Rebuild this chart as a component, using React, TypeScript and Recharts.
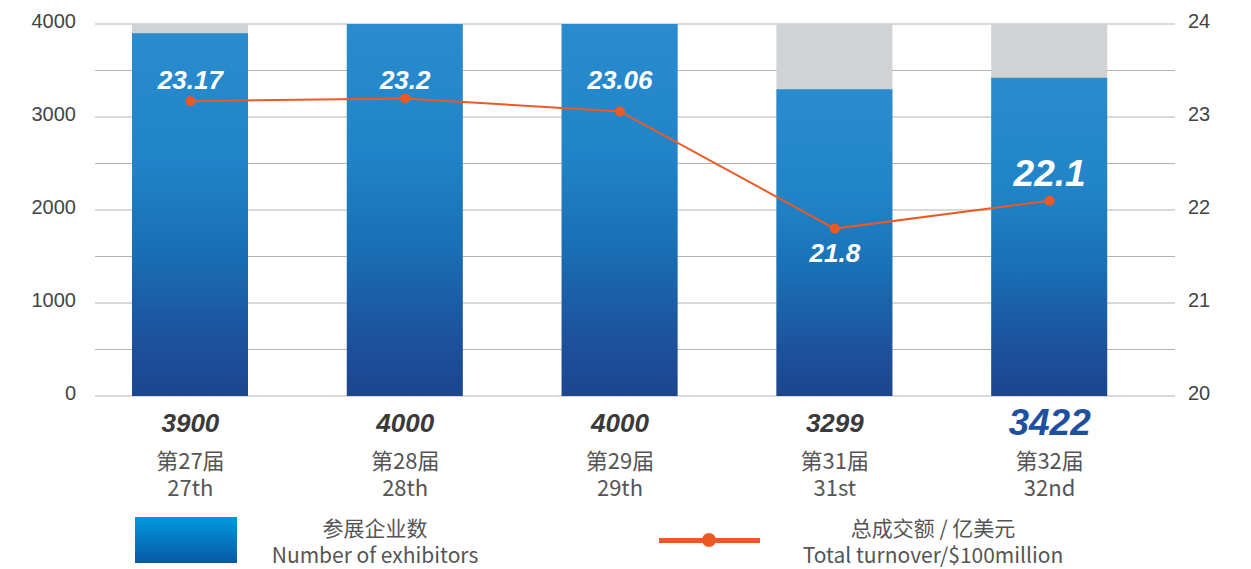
import React from 'react';
import {
  Bar,
  CartesianGrid,
  ComposedChart,
  LabelList,
  Legend,
  Line,
  XAxis,
  YAxis,
} from 'recharts';

// 届次
const categories = ['第27届', '第28届', '第29届', '第31届', '第32届'];
const categoriesEn = ['27th', '28th', '29th', '31st', '32nd'];
// 参展企业数
const exhibitors = [3900, 4000, 4000, 3299, 3422];
// 总成交额 / 亿美元
const turnover = [23.17, 23.2, 23.06, 21.8, 22.1];

const leftTicks = [0, 500, 1000, 1500, 2000, 2500, 3000, 3500, 4000];
const rightTicks = [20, 21, 22, 23, 24];

const data = categories.map((name, i) => ({
  name,
  en: categoriesEn[i],
  exhibitors: exhibitors[i],
  turnover: turnover[i],
}));

const AXIS_FONT = '"Liberation Sans", Arial, Helvetica, sans-serif';
const CJK_FONT = '"Noto Sans CJK SC", "Noto Sans", sans-serif';
const ORANGE = '#eb5a24';

const LeftTick = (props: any) => {
  const { x, y, payload } = props;
  if (payload.value % 1000 !== 0) return null;
  return (
    <text x={x} y={y + 4} textAnchor="end" fontSize={20} fill="#444" fontFamily={AXIS_FONT}>
      {payload.value}
    </text>
  );
};

const RightTick = (props: any) => {
  const { x, y, payload } = props;
  return (
    <text x={x} y={y + 4} textAnchor="start" fontSize={20} fill="#444" fontFamily={AXIS_FONT}>
      {payload.value}
    </text>
  );
};

const CategoryTick = (props: any) => {
  const { x, y, payload } = props;
  const i = categories.indexOf(payload.value);
  const last = i === categories.length - 1;
  return (
    <g>
      <text
        x={x}
        y={last ? y + 37 : y + 34}
        textAnchor="middle"
        fontSize={last ? 37 : 26}
        fontWeight="bold"
        fontStyle="italic"
        fill={last ? '#1d50a0' : '#3a3a3a'}
        fontFamily={AXIS_FONT}
      >
        {exhibitors[i]}
      </text>
      <text x={x} y={y + 71} textAnchor="middle" fontSize={22} fill="#555" fontFamily={CJK_FONT}>
        {payload.value}
      </text>
      <text x={x} y={y + 98} textAnchor="middle" fontSize={22} fill="#555" fontFamily={CJK_FONT}>
        {categoriesEn[i]}
      </text>
    </g>
  );
};

// labels of the first three points sit on one row near the top of the bars
const TurnoverLabel = (props: any) => {
  const { x, y, value, index } = props;
  let ty = 89;
  let size = 26;
  if (index === 3) ty = y + 33;
  if (index === 4) {
    ty = y - 15;
    size = 37;
  }
  return (
    <text
      x={x}
      y={ty}
      textAnchor="middle"
      fontSize={size}
      fontWeight="bold"
      fontStyle="italic"
      fill="#fff"
      fontFamily={AXIS_FONT}
    >
      {value}
    </text>
  );
};

const GridLine = (props: any) => {
  const { x1, x2, y1, y2 } = props;
  return <line x1={x1 + 12} x2={x2} y1={y1} y2={y2} stroke="#b3b3b3" strokeWidth={1} />;
};

const ChartLegend = () => (
  <div style={{ position: 'relative', width: 1251, height: 64, fontFamily: CJK_FONT, color: '#555' }}>
    <div
      style={{
        position: 'absolute',
        left: 135,
        top: 12,
        width: 102,
        height: 46,
        background: 'linear-gradient(to bottom, #0099dd, #0a58a6)',
      }}
    />
    <div
      style={{
        position: 'absolute',
        left: 240,
        top: 9,
        width: 270,
        textAlign: 'center',
        fontSize: 21,
        lineHeight: '27px',
      }}
    >
      <div>参展企业数</div>
      <div>Number of exhibitors</div>
    </div>
    <div
      style={{
        position: 'absolute',
        left: 659,
        top: 33,
        width: 101,
        height: 5,
        background: ORANGE,
      }}
    />
    <div
      style={{
        position: 'absolute',
        left: 702,
        top: 28,
        width: 14,
        height: 14,
        borderRadius: 7,
        background: ORANGE,
      }}
    />
    <div
      style={{
        position: 'absolute',
        left: 760,
        top: 9,
        width: 346,
        textAlign: 'center',
        fontSize: 21,
        lineHeight: '27px',
      }}
    >
      <div>总成交额 / 亿美元</div>
      <div>Total turnover/$100million</div>
    </div>
  </div>
);

const App: React.FC = () => {
  return (
    <div style={{ position: 'absolute', left: 0, top: 0, width: 1251, height: 569, background: '#fff' }}>
      <ComposedChart
        width={1251}
        height={569}
        data={data}
        margin={{ top: 24, right: 16, bottom: 63, left: 0 }}
      >
        <defs>
          <linearGradient id="barGrad" x1="0" y1="0" x2="0" y2="1">
            <stop offset="0%" stopColor="#2a8ccf" />
            <stop offset="35%" stopColor="#2184c8" />
            <stop offset="60%" stopColor="#196fb5" />
            <stop offset="85%" stopColor="#1d519c" />
            <stop offset="100%" stopColor="#1c458f" />
          </linearGradient>
        </defs>
        <CartesianGrid yAxisId="left" vertical={false} horizontal={GridLine} />
        <XAxis
          dataKey="name"
          axisLine={false}
          tickLine={false}
          tickSize={0}
          height={110}
          padding={{ left: 0, right: 18 }}
          tick={CategoryTick}
          interval={0}
        />
        <YAxis
          yAxisId="left"
          domain={[0, 4000]}
          ticks={leftTicks}
          width={83}
          axisLine={false}
          tickLine={false}
          tickSize={0}
          tickMargin={7}
          tick={LeftTick}
          interval={0}
        />
        <YAxis
          yAxisId="right"
          orientation="right"
          domain={[20, 24]}
          ticks={rightTicks}
          width={60}
          axisLine={false}
          tickLine={false}
          tickSize={0}
          tickMargin={13}
          tick={RightTick}
          interval={0}
        />
        <Legend
          layout="vertical"
          align="center"
          verticalAlign="middle"
          wrapperStyle={{ left: 0, top: 505, width: 1251 }}
          content={ChartLegend}
        />
        <Bar
          yAxisId="left"
          dataKey="exhibitors"
          name="参展企业数"
          barSize={116}
          fill="url(#barGrad)"
          background={{ fill: '#d1d2d4' }}
          isAnimationActive={false}
        />
        <Line
          yAxisId="right"
          dataKey="turnover"
          name="总成交额 / 亿美元"
          type="linear"
          stroke={ORANGE}
          strokeWidth={2}
          dot={{ r: 5, fill: ORANGE, stroke: ORANGE, strokeWidth: 0 }}
          activeDot={false}
          isAnimationActive={false}
        >
          <LabelList dataKey="turnover" content={TurnoverLabel} />
        </Line>
      </ComposedChart>
    </div>
  );
};

export default App;
